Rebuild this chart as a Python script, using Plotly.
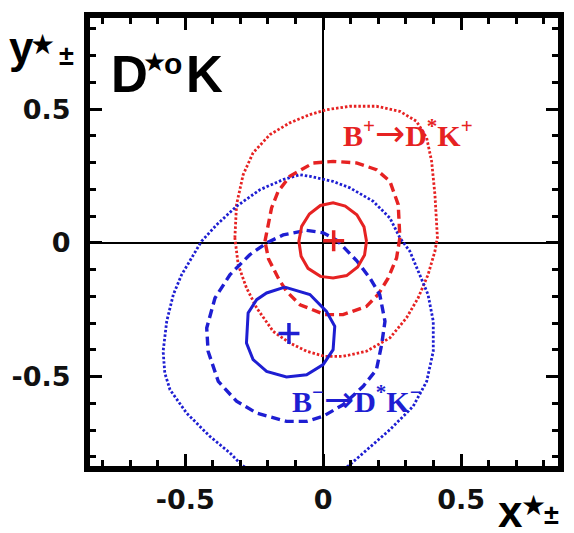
import plotly.graph_objects as go

# ---------------- data ----------------
tick_vals = [-0.5, 0, 0.5]
tick_text = ["-0.5", "0", "0.5"]

red_center_x = [0.038]
red_center_y = [0.008]
blue_center_x = [-0.124]
blue_center_y = [-0.339]

red_solid_x = [0.157, 0.148, 0.122, 0.080, 0.036, -0.010, -0.050, -0.078, -0.088, -0.080, -0.055, -0.010, 0.036, 0.085, 0.125, 0.150, 0.157]
red_solid_y = [0.006, 0.060, 0.105, 0.138, 0.150, 0.140, 0.108, 0.062, 0.006, -0.050, -0.095, -0.125, -0.131, -0.122, -0.090, -0.045, 0.006]

red_dash_x = [-0.211, -0.187, -0.163, -0.121, -0.036, 0.036, 0.121, 0.193, 0.242, 0.272, 0.278, 0.266, 0.236, 0.199, 0.157, 0.072, 0.006, -0.084, -0.133, -0.163, -0.198, -0.211]
red_dash_y = [0.006, 0.131, 0.193, 0.249, 0.299, 0.305, 0.299, 0.274, 0.230, 0.143, 0.019, -0.056, -0.131, -0.193, -0.237, -0.268, -0.268, -0.231, -0.181, -0.131, -0.060, 0.006]

red_dot_x = [-0.320, -0.314, -0.290, -0.254, -0.193, -0.121, -0.048, 0.012, 0.097, 0.193, 0.278, 0.338, 0.375, 0.393, 0.405, 0.414, 0.405, 0.380, 0.344, 0.302, 0.242, 0.157, 0.072, 0.006, -0.060, -0.121, -0.181, -0.241, -0.278, -0.308, -0.320]
red_dot_y = [0.019, 0.143, 0.255, 0.337, 0.405, 0.449, 0.480, 0.498, 0.511, 0.511, 0.492, 0.455, 0.393, 0.305, 0.181, 0.020, -0.031, -0.119, -0.206, -0.280, -0.355, -0.405, -0.424, -0.424, -0.405, -0.374, -0.331, -0.243, -0.168, -0.081, 0.019]

blue_solid_x = [-0.139, -0.048, 0.012, 0.042, 0.036, 0.000, -0.060, -0.133, -0.205, -0.254, -0.278, -0.272, -0.241, -0.205, -0.139]
blue_solid_y = [-0.165, -0.193, -0.256, -0.312, -0.399, -0.455, -0.493, -0.501, -0.480, -0.436, -0.374, -0.262, -0.212, -0.187, -0.165]

blue_dash_x = [-0.060, 0.000, 0.050, 0.121, 0.169, 0.205, 0.224, 0.212, 0.193, 0.145, 0.072, 0.000, -0.060, -0.133, -0.241, -0.314, -0.380, -0.417, -0.422, -0.392, -0.338, -0.266, -0.205, -0.145, -0.060]
blue_dash_y = [0.047, 0.038, 0.010, -0.066, -0.131, -0.193, -0.293, -0.380, -0.474, -0.536, -0.605, -0.648, -0.667, -0.667, -0.636, -0.592, -0.518, -0.405, -0.318, -0.206, -0.119, -0.044, 0.000, 0.030, 0.047]

blue_dot_x = [-0.441, -0.386, -0.314, -0.229, -0.145, -0.084, -0.048, 0.036, 0.097, 0.181, 0.242, 0.278, 0.314, 0.350, 0.380, 0.399, 0.399, 0.375, 0.326, 0.242, 0.145, 0.097, 0.030, -0.100, -0.230, -0.296, -0.338, -0.411, -0.495, -0.555, -0.574, -0.580, -0.567, -0.543, -0.513, -0.471, -0.441]
blue_dot_y = [0.006, 0.068, 0.137, 0.199, 0.237, 0.255, 0.249, 0.230, 0.206, 0.156, 0.093, 0.019, -0.031, -0.119, -0.193, -0.293, -0.405, -0.518, -0.611, -0.698, -0.785, -0.829, -0.880, -0.930, -0.880, -0.829, -0.785, -0.723, -0.636, -0.549, -0.486, -0.405, -0.293, -0.193, -0.119, -0.044, 0.006]

# ---------------- styling ----------------
RED = "#e62222"
BLUE = "#1e1ed2"
OFF = 8                      # page body margin offset
W, H = 574 - OFF, 533 - OFF
ML, MR, MT, MB = 90 - OFF, 16, 18 - OFF, 67


def fx(px):
    return (px - OFF - ML) / (W - ML - MR)


def fy(py):
    return 1 - (py - OFF - MT) / (H - MT - MB)


fig = go.Figure()


def contour(xs, ys, color, dash, width):
    fig.add_trace(go.Scatter(x=xs, y=ys, mode="lines", hoverinfo="skip",
                             line=dict(color=color, dash=dash, width=width)))


contour(red_dot_x, red_dot_y, RED, "2.5px,2px", 2.8)
contour(blue_dot_x, blue_dot_y, BLUE, "2.5px,2px", 2.8)
contour(red_dash_x, red_dash_y, RED, "9px,5px", 3.4)
contour(blue_dash_x, blue_dash_y, BLUE, "9px,5px", 3.4)
contour(red_solid_x, red_solid_y, RED, "solid", 3)
contour(blue_solid_x, blue_solid_y, BLUE, "solid", 3)

fig.add_trace(go.Scatter(x=red_center_x, y=red_center_y, mode="markers", hoverinfo="skip",
                         marker=dict(symbol="cross-thin", size=15, line=dict(color=RED, width=3.5))))
fig.add_trace(go.Scatter(x=blue_center_x, y=blue_center_y, mode="markers", hoverinfo="skip",
                         marker=dict(symbol="cross-thin", size=15, line=dict(color=BLUE, width=3.5))))

axis_common = dict(
    showgrid=False, automargin=False,
    zeroline=True, zerolinecolor="black", zerolinewidth=2,
    showline=True, linecolor="black", linewidth=6, mirror="allticks",
    ticks="inside", ticklen=12, tickwidth=2.5, tickcolor="black",
    tickvals=tick_vals, ticktext=tick_text,
    tickfont=dict(family="DejaVu Sans", size=27, color="#111", weight="bold"),
    minor=dict(ticks="inside", ticklen=6, tickwidth=2.5, tickcolor="black", dtick=0.1, tick0=0, showgrid=False),
)

fig.update_layout(
    width=W, height=H,
    margin=dict(l=ML, r=MR, t=MT, b=MB, pad=0),
    paper_bgcolor="white", plot_bgcolor="white",
    showlegend=False,
    xaxis=dict(range=[-0.845, 0.851], ticklabelstandoff=5, **axis_common),
    yaxis=dict(range=[-0.834, 0.841], ticklabelstandoff=8, **axis_common),
)

ann = []


def txt(text, px, py, size, family="Liberation Sans", color="black", bold=True):
    ann.append(dict(text=text, x=fx(px), y=fy(py), xref="paper", yref="paper",
                    showarrow=False, xanchor="center", yanchor="middle",
                    font=dict(family=family, size=size, color=color,
                              weight="bold" if bold else "normal")))


# axis titles
txt("y", 21.5, 48, 44)
txt("★", 42, 44, 28, family="DejaVu Sans")
txt("±", 66, 56, 27)
txt("x", 510.5, 511, 44)
txt("★", 533.5, 505, 28, family="DejaVu Sans")
txt("±", 551, 515, 27)

# D*0K
txt("D", 129, 74, 51)
txt("★", 154, 62, 26, family="DejaVu Sans")
txt("o", 173, 63, 30)
txt("K", 204.5, 74, 51)

# decay labels
ARROW = "<span style='font-family:DejaVu Sans;font-weight:normal;font-size:36px'>→</span>"
txt("B<sup>+</sup>" + ARROW + "D<sup>*</sup>K<sup>+</sup>", 408, 133, 30, family="Liberation Serif", color=RED)
txt("B<sup>−</sup>" + ARROW + "D<sup>*</sup>K<sup>−</sup>", 357, 399, 30, family="Liberation Serif", color=BLUE)

fig.update_layout(annotations=ann)
fig.write_html("out.html")
